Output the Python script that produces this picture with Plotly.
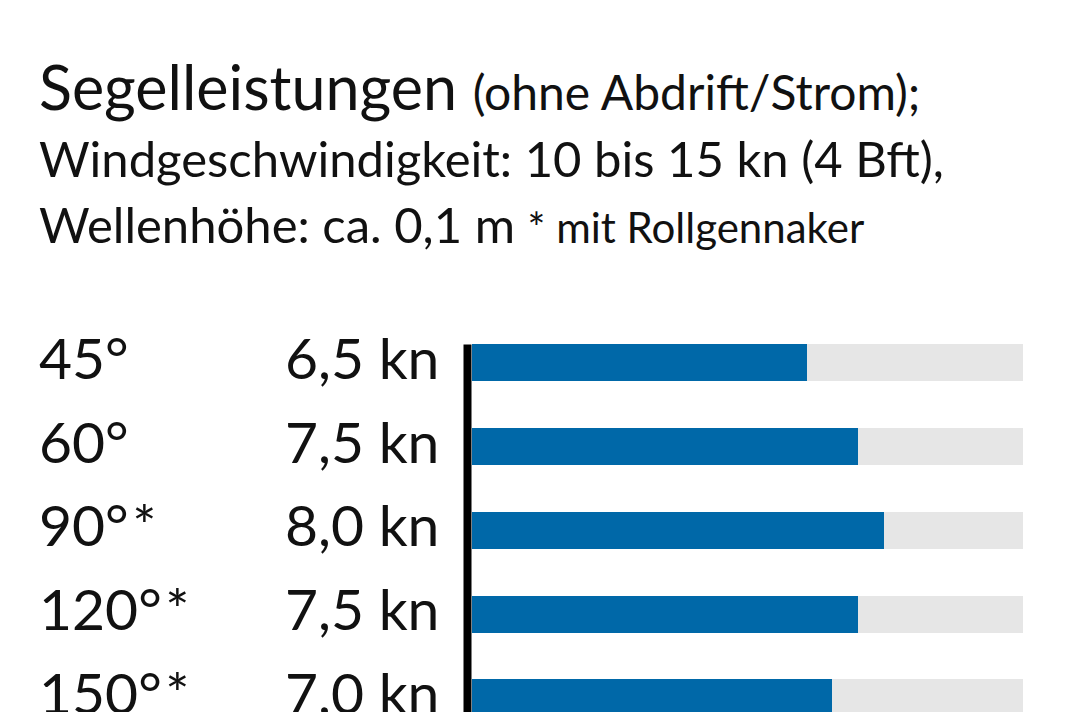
import plotly.graph_objects as go

# ---- data ----
angles = ["45°", "60°", "90°\u200a*", "120°\u200a*", "150°\u200a*"]
speeds = [6.5, 7.5, 8.0, 7.5, 7.0]
speed_labels = ["6,5 kn", "7,5 kn", "8,0 kn", "7,5 kn", "7,0 kn"]
scale_max = 10.7

title_main = "Segelleistungen"
title_paren = "(ohne Abdrift/Strom);"
title_line2 = "Windgeschwindigkeit: 10 bis 15 kn (4 Bft),"
title_line3 = "Wellenhöhe: ca. 0,1 m"
title_note = "* mit Rollgennaker"

# ---- layout geometry (pixels, page has an 8px body margin) ----
OFF = 8
W, H = 1068 - OFF, 712 - OFF
L, R, T, B = 472 - OFF, 45, 321 - OFF, 0
PW, PH = W - L - R, H - T - B
ROW = 83.75
BAR_W = 0.44
FONT = "Lato, 'Open Sans', sans-serif"
BLUE = "#0068a8"
GRAY = "#e6e6e6"
INK = "#111111"

def px_x(p):
    # p given in reference-page pixels
    return (p - OFF - L) / PW

def px_y(p):
    return (H - B - (p - OFF)) / PH

y_idx = list(range(len(angles)))
y_bottom = -0.5 + PH / ROW

fig = go.Figure()
fig.add_trace(go.Bar(
    y=y_idx, x=[scale_max] * len(angles), orientation="h",
    marker=dict(color=GRAY, line=dict(width=0)), width=BAR_W,
    hoverinfo="skip", showlegend=False,
))
fig.add_trace(go.Bar(
    y=y_idx, x=speeds, orientation="h",
    marker=dict(color=BLUE, line=dict(width=0)), width=BAR_W,
    hoverinfo="skip", showlegend=False,
))

annotations = []
for i, (a, s) in enumerate(zip(angles, speed_labels)):
    annotations.append(dict(
        x=px_x(37), xref="paper", y=i, yref="y", yshift=6,
        text=a, showarrow=False, xanchor="left", yanchor="middle",
        font=dict(family=FONT, size=57, color=INK),
    ))
    annotations.append(dict(
        x=px_x(441), xref="paper", y=i, yref="y", yshift=6,
        text=s, showarrow=False, xanchor="right", yanchor="middle",
        font=dict(family=FONT, size=57, color=INK),
    ))

annotations.append(dict(
    x=px_x(37), xref="paper", y=px_y(87), yref="paper",
    text=f"{title_main} <span style='font-size:48px'>{title_paren}</span>",
    showarrow=False, xanchor="left", yanchor="middle",
    font=dict(family=FONT, size=61, color=INK),
))
annotations.append(dict(
    x=px_x(37), xref="paper", y=px_y(158), yref="paper",
    text=title_line2,
    showarrow=False, xanchor="left", yanchor="middle",
    font=dict(family=FONT, size=49, color=INK),
))
annotations.append(dict(
    x=px_x(37), xref="paper", y=px_y(224), yref="paper",
    text=f"{title_line3} <span style='font-size:42px'>{title_note}</span>",
    showarrow=False, xanchor="left", yanchor="middle",
    font=dict(family=FONT, size=49, color=INK),
))

fig.update_layout(
    width=W, height=H,
    margin=dict(l=L, r=R, t=T, b=B, pad=0),
    paper_bgcolor="white", plot_bgcolor="white",
    barmode="overlay", bargap=0,
    annotations=annotations,
    shapes=[dict(
        type="line", xref="paper", yref="y",
        x0=px_x(467.5), x1=px_x(467.5), y0=-BAR_W / 2, y1=y_bottom + 1,
        line=dict(color="black", width=8),
    )],
    xaxis=dict(range=[0, scale_max], visible=False, fixedrange=True),
    yaxis=dict(range=[y_bottom, -0.5], visible=False, fixedrange=True),
    font=dict(family=FONT, color=INK),
)

fig.write_html("out.html", config={"displayModeBar": False})
